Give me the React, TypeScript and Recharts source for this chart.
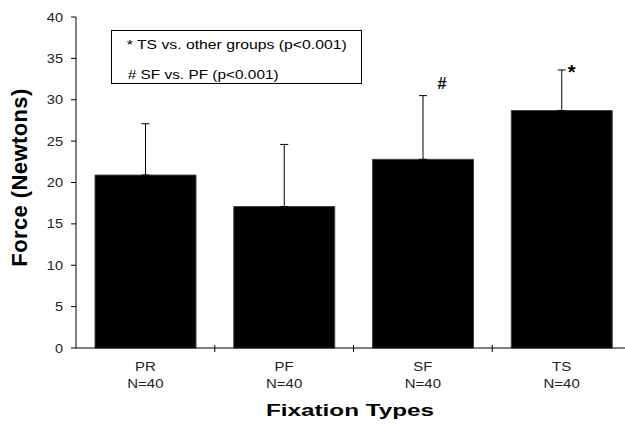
import { ComposedChart, Bar, ErrorBar, Scatter, XAxis, YAxis } from "recharts"

const categories = ["PR", "PF", "SF", "TS"]
const sampleSizes = ["N=40", "N=40", "N=40", "N=40"]
const meanForce = [20.9, 17.1, 22.8, 28.7]
const sdForce = [6.2, 7.5, 7.7, 4.9]
const marks = ["", "", "#", "*"]
const yTicks = [0, 5, 10, 15, 20, 25, 30, 35, 40]
const legendLines = ["* TS vs. other groups (p<0.001)", "# SF vs. PF (p<0.001)"]

const data = categories.map((name, i) => ({
  name,
  n: sampleSizes[i],
  mean: meanForce[i],
  err: [0, sdForce[i]],
  top: meanForce[i] + sdForce[i],
  mark: marks[i],
}))

const font = "'Liberation Sans', Arial, sans-serif"

// the original is a bit wider than it is tall, so glyphs get stretched sideways
function CategoryTick(props: any) {
  const { x, y, payload, index } = props
  const half = payload && payload.offset ? payload.offset : 69
  const row = data[index] || data.find(d => d.name === payload.value)
  return (
    <g>
      {index > 0 && <line x1={x - half} x2={x - half} y1={y - 3} y2={y + 4} stroke="#000" />}
      <text transform={`translate(${x},${y + 23}) scale(1.15,1)`} textAnchor="middle" fontSize={13} fill="#222" fontFamily={font}>
        {payload.value}
      </text>
      <text transform={`translate(${x},${y + 40}) scale(1.15,1)`} textAnchor="middle" fontSize={13} fill="#222" fontFamily={font}>
        {row ? row.n : ""}
      </text>
    </g>
  )
}

function ValueTick(props: any) {
  const { x, y, payload } = props
  return (
    <text transform={`translate(${x},${y + 4.5}) scale(1.12,1)`} textAnchor="end" fontSize={13} fill="#222" fontFamily={font}>
      {payload.value}
    </text>
  )
}

function MarkShape(props: any) {
  const { cx, cy, payload } = props
  if (!payload || !payload.mark) return <g />
  if (payload.mark === "#") {
    return (
      <text x={cx + 19} y={cy - 7} textAnchor="middle" fontSize={16} fontWeight="bold" fontFamily={font}>#</text>
    )
  }
  return (
    <text x={cx + 10} y={cy + 9} textAnchor="middle" fontSize={20} fontWeight="bold" fontFamily={font}>
      {payload.mark}
    </text>
  )
}

export default function App() {
  return (
    <div style={{ position: "absolute", left: 0, top: 0, width: 625, height: 425, overflow: "hidden", background: "#fff" }}>
      <ComposedChart
        width={640}
        height={425}
        data={data}
        margin={{ top: 17, right: 9, left: 0, bottom: 0 }}
        barCategoryGap={0}
      >
        <XAxis
          dataKey="name"
          height={77}
          tickLine={false}
          tickSize={0}
          tickMargin={0}
          axisLine={{ stroke: "#000" }}
          tick={<CategoryTick />}
          interval={0}
        />
        <YAxis
          width={76}
          domain={[0, 40]}
          ticks={yTicks}
          tickSize={5}
          tickMargin={8}
          axisLine={{ stroke: "#000" }}
          tickLine={{ stroke: "#000" }}
          tick={<ValueTick />}
        />
        <Bar dataKey="mean" fill="#000" stroke="#444" barSize={101} isAnimationActive={false}>
          <ErrorBar dataKey="err" width={4} stroke="#000" strokeWidth={1} direction="y" />
        </Bar>
        <Scatter dataKey="top" shape={<MarkShape />} isAnimationActive={false} />
      </ComposedChart>
      <svg width={625} height={425} style={{ position: "absolute", left: 0, top: 0, pointerEvents: "none" }}>
        <rect x={111.5} y={30.5} width={250} height={53} fill="#fff" stroke="#000" />
        <text x={126.7} y={49} fontSize={13} textLength={220} lengthAdjust="spacingAndGlyphs" fontFamily={font}>{legendLines[0]}</text>
        <text x={127.7} y={78.5} fontSize={13} textLength={151} lengthAdjust="spacingAndGlyphs" fontFamily={font}>{legendLines[1]}</text>
        <text
          transform="translate(27,177.5) rotate(-90)"
          textAnchor="middle"
          fontSize={22}
          fontWeight="bold"
          letterSpacing={0.4}
          fontFamily={font}
        >
          Force (Newtons)
        </text>
        <text x={266} y={416} fontSize={16} fontWeight="bold" textLength={168} lengthAdjust="spacingAndGlyphs" fontFamily={font}>
          Fixation Types
        </text>
      </svg>
    </div>
  )
}
